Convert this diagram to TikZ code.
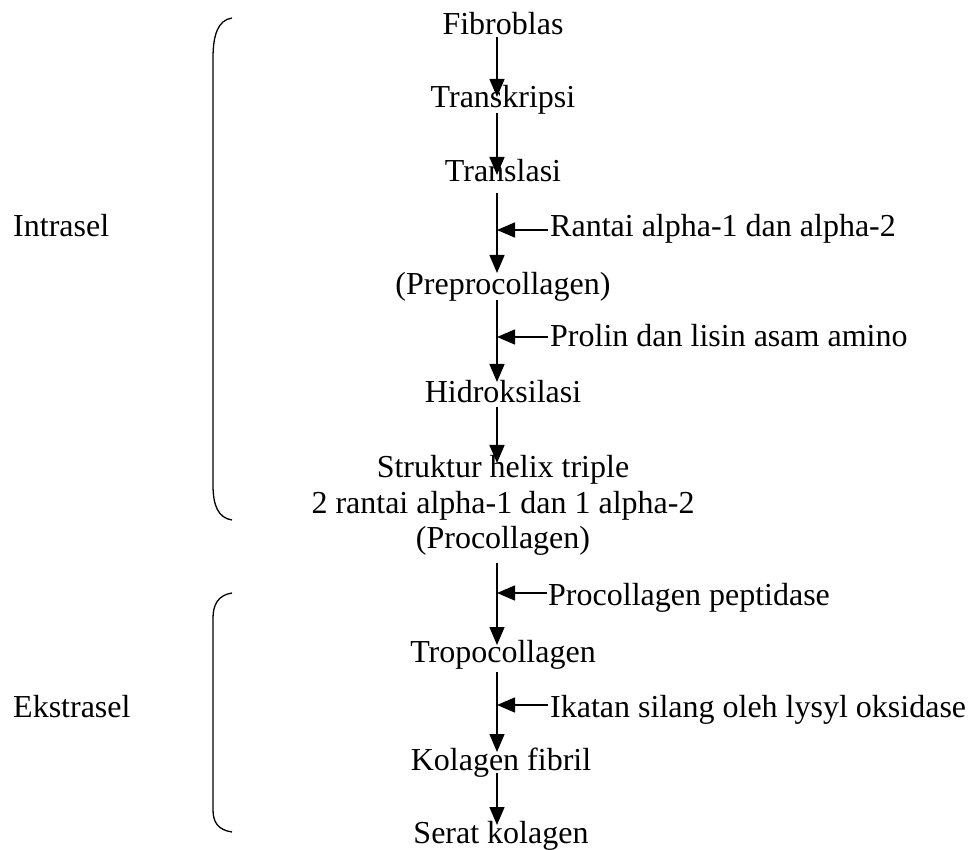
\documentclass[tikz,border=0pt]{standalone}
\usepackage{fontspec}
\setmainfont{Liberation Serif}
\usetikzlibrary{arrows.meta,calc}
\begin{document}
\begin{tikzpicture}[x=1pt,y=-1pt,
  every node/.style={font=\fontsize{32}{36}\selectfont, inner sep=0pt},
  lbl/.style={anchor=base},
  side/.style={anchor=base west},
  arr/.style={line width=1.5pt, -{Triangle[length=18pt,width=15pt]}},
  brace/.style={line width=1.3pt}]
\useasboundingbox (0,0) rectangle (970,850);

% main chain
\node[lbl] (fib)   at (503,35)  {Fibroblas};
\node[lbl] (trs)   at (503,108) {Transkripsi};
\node[lbl] (tla)   at (503,182) {Translasi};
\node[lbl] (pre)   at (503,295) {(Preprocollagen)};
\node[lbl] (hid)   at (503,403) {Hidroksilasi};
\node[lbl] (st1)   at (503,477) {Struktur helix triple};
\node[lbl] (st2)   at (503,513) {2 rantai alpha-1 dan 1 alpha-2};
\node[lbl] (st3)   at (503,548) {(Procollagen)};
\node[lbl] (tro)   at (503,662) {Tropocollagen};
\node[lbl] (kol)   at (501,770) {Kolagen fibril};
\node[lbl] (ser)   at (501,843) {Serat kolagen};

% side inputs
\node[side] (ran) at (550,237) {Rantai alpha-1 dan alpha-2};
\node[side] (pro) at (550,347) {Prolin dan lisin asam amino};
\node[side] (pep) at (548,605) {Procollagen peptidase};
\node[side] (ika) at (550,717) {Ikatan silang oleh lysyl oksidase};

% region labels
\node[side] (intra) at (13,237) {Intrasel};
\node[side] (ekstra) at (13,717) {Ekstrasel};

% vertical arrows
\draw[arr] ([xshift=-6pt,yshift=-2pt]fib.base) -- ([xshift=-6pt,yshift=11pt]trs.base);
\draw[arr] ([xshift=-6pt,yshift=-5pt]trs.base) -- ([xshift=-6pt,yshift=7pt]tla.base);
\draw[arr] ([xshift=-6pt,yshift=-11pt]tla.base) -- ([xshift=-6pt,yshift=22pt]pre.base);
\draw[arr] ([xshift=-6pt,yshift=-5pt]pre.base) -- ([xshift=-6pt,yshift=21pt]hid.base);
\draw[arr] ([xshift=-6pt,yshift=-4pt]hid.base) -- ([xshift=-6pt,yshift=14pt]st1.base);
\draw[arr] ([xshift=-6pt,yshift=-15pt]st3.base) -- ([xshift=-6pt,yshift=17pt]tro.base);
\draw[arr] ([xshift=-6pt,yshift=-10pt]tro.base) -- ([xshift=-4pt,yshift=18pt]kol.base);
\draw[arr] ([xshift=-4pt,yshift=-3pt]kol.base) -- ([xshift=-4pt,yshift=18pt]ser.base);

% horizontal arrows
\draw[arr] ([xshift=-2pt,yshift=7pt]ran.base west) -- ++(-51,0);
\draw[arr] ([xshift=-2pt,yshift=10pt]pro.base west) -- ++(-51,0);
\draw[arr] ([xshift=-1pt,yshift=12pt]pep.base west) -- ++(-50,0);
\draw[arr] ([xshift=-2pt,yshift=12pt]ika.base west) -- ++(-51,0);

% braces
\draw[brace] (232,18) .. controls (218,20) and (213,35) .. (213,58) -- (213,485)
  .. controls (213,505) and (218,518) .. (232,520);
\draw[brace] (232,593) .. controls (218,595) and (213,605) .. (213,618) -- (213,810)
  .. controls (213,822) and (218,830) .. (232,832);
\end{tikzpicture}
\end{document}
